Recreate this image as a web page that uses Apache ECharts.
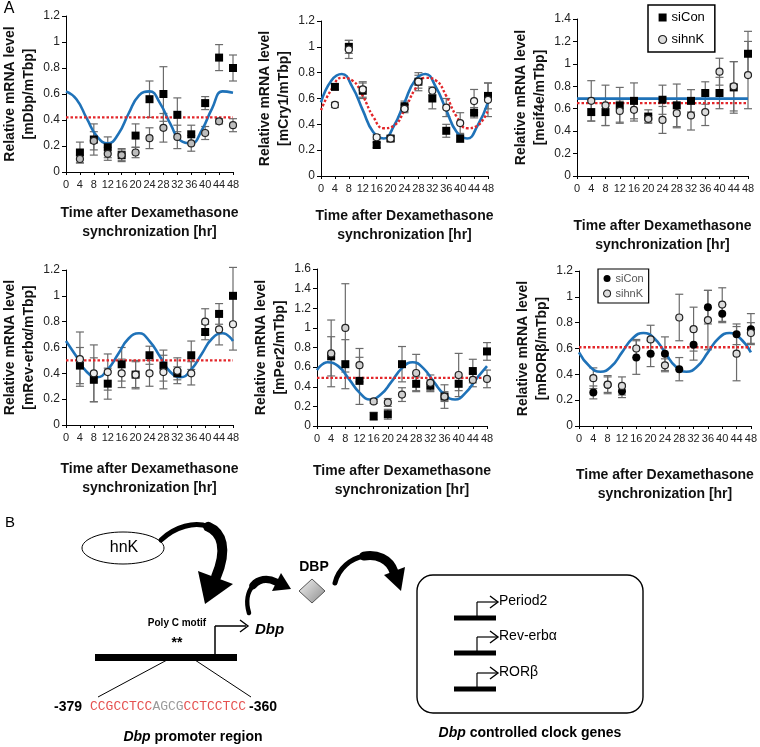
<!DOCTYPE html>
<html>
<head>
<meta charset="utf-8">
<title>hnK and Dbp controlled clock genes</title>
<script src="https://cdn.jsdelivr.net/npm/echarts@6/dist/echarts.min.js"></script>
<style>
  html, body { margin: 0; padding: 0; background: #fff; }
  #main { width: 760px; height: 747px; }
</style>
</head>
<body>
<div id="main"></div>
<script type="text/javascript">
// sampling times (hr after Dex)
var hours = [4, 8, 12, 16, 20, 24, 28, 32, 36, 40, 44, 48];
var fitHours = [0, 3, 6, 9, 12, 15, 18, 21, 24, 27, 30, 33, 36, 39, 42, 45, 48];
var legendNames = ['siCon', 'sihnK'];

// mDbp
var dbpCon = [0.15, 0.25, 0.19, 0.13, 0.28, 0.56, 0.60, 0.44, 0.29, 0.53, 0.88, 0.80];
var dbpConErr = [0.08, 0.12, 0.08, 0.05, 0.09, 0.14, 0.21, 0.13, 0.07, 0.05, 0.10, 0.10];
var dbpKd = [0.10, 0.24, 0.14, 0.13, 0.15, 0.26, 0.34, 0.27, 0.22, 0.30, 0.39, 0.36];
var dbpKdErr = [0.03, 0.07, 0.05, 0.04, 0.04, 0.08, 0.11, 0.09, 0.06, 0.05, 0.02, 0.05];
var dbpFit = [0.62, 0.56, 0.41, 0.27, 0.22, 0.29, 0.45, 0.59, 0.62, 0.53, 0.37, 0.24, 0.22, 0.32, 0.49, 0.62, 0.61];
var dbpKdMean = 0.42;

// mCry1
var cryCon = [0.69, 1.00, 0.66, 0.24, 0.29, 0.54, 0.73, 0.60, 0.35, 0.29, 0.49, 0.62];
var cryConErr = [0.02, 0.05, 0.06, 0.02, 0.02, 0.04, 0.07, 0.08, 0.05, 0.03, 0.04, 0.10];
var cryKd = [0.55, 0.98, 0.67, 0.30, 0.29, 0.52, 0.73, 0.66, 0.53, 0.41, 0.58, 0.59];
var cryKdErr = [0.02, 0.07, 0.06, 0.02, 0.02, 0.03, 0.05, 0.03, 0.07, 0.08, 0.09, 0.13];
var cryFitCon = [0.57, 0.74, 0.79, 0.69, 0.51, 0.34, 0.29, 0.39, 0.57, 0.74, 0.79, 0.69, 0.51, 0.34, 0.29, 0.39, 0.57];
var cryFitKd = [0.51, 0.67, 0.76, 0.74, 0.62, 0.46, 0.37, 0.39, 0.51, 0.67, 0.76, 0.74, 0.62, 0.46, 0.37, 0.39, 0.51];

// meif4e
var eifCon = [0.57, 0.57, 0.63, 0.67, 0.53, 0.68, 0.63, 0.67, 0.74, 0.74, 0.79, 1.09];
var eifConErr = [0.08, 0.12, 0.16, 0.16, 0.06, 0.13, 0.19, 0.10, 0.10, 0.14, 0.23, 0.20];
var eifKd = [0.67, 0.63, 0.58, 0.59, 0.51, 0.50, 0.56, 0.54, 0.57, 0.93, 0.80, 0.90];
var eifKdErr = [0.18, 0.18, 0.10, 0.10, 0.03, 0.12, 0.13, 0.13, 0.12, 0.12, 0.22, 0.30];
var eifConMean = 0.69;
var eifKdMean = 0.65;

// mRev-erbα
var revCon = [0.46, 0.35, 0.32, 0.47, 0.39, 0.54, 0.46, 0.40, 0.54, 0.72, 0.86, 1.00];
var revConErr = [0.14, 0.17, 0.12, 0.13, 0.11, 0.07, 0.12, 0.05, 0.11, 0.06, 0.08, 0.22];
var revKd = [0.51, 0.40, 0.41, 0.40, 0.39, 0.40, 0.41, 0.42, 0.40, 0.80, 0.74, 0.78];
var revKdErr = [0.21, 0.22, 0.14, 0.11, 0.10, 0.10, 0.13, 0.10, 0.09, 0.10, 0.12, 0.20];
var revFit = [0.65, 0.53, 0.41, 0.37, 0.43, 0.55, 0.67, 0.71, 0.65, 0.53, 0.41, 0.37, 0.43, 0.55, 0.67, 0.71, 0.65];
var revKdMean = 0.50;

// mPer2
var perCon = [0.71, 0.63, 0.46, 0.10, 0.12, 0.63, 0.43, 0.41, 0.30, 0.43, 0.56, 0.76];
var perConErr = [0.20, 0.25, 0.24, 0.04, 0.05, 0.18, 0.07, 0.06, 0.12, 0.07, 0.12, 0.09];
var perKd = [0.74, 1.00, 0.62, 0.25, 0.24, 0.32, 0.54, 0.44, 0.30, 0.52, 0.47, 0.48];
var perKdErr = [0.34, 0.45, 0.17, 0.02, 0.04, 0.07, 0.19, 0.08, 0.05, 0.22, 0.07, 0.09];
var perFit = [0.57, 0.65, 0.61, 0.48, 0.34, 0.27, 0.32, 0.45, 0.59, 0.65, 0.59, 0.45, 0.32, 0.27, 0.34, 0.48, 0.61];
var perKdMean = 0.49;

// mRORβ
var rorCon = [0.26, 0.32, 0.27, 0.53, 0.56, 0.56, 0.44, 0.63, 0.92, 0.87, 0.71, 0.75];
var rorConErr = [0.05, 0.07, 0.05, 0.13, 0.10, 0.13, 0.09, 0.12, 0.13, 0.07, 0.08, 0.12];
var rorKd = [0.37, 0.32, 0.31, 0.60, 0.67, 0.47, 0.84, 0.75, 0.82, 0.94, 0.56, 0.72];
var rorKdErr = [0.08, 0.06, 0.07, 0.07, 0.11, 0.05, 0.18, 0.17, 0.23, 0.13, 0.21, 0.08];
var rorFit = [0.57, 0.46, 0.42, 0.46, 0.57, 0.68, 0.72, 0.68, 0.57, 0.46, 0.42, 0.46, 0.57, 0.68, 0.72, 0.68, 0.57];
var rorKdMean = 0.61;

var FONT = '"Liberation Sans", Arial, sans-serif';
var BLUE = '#1f72b8';
var RED = '#e3262a';
var ERR = '#6b6b6b';

var panels = [
  {gene: 'mDbp', yMax: 1.2, con: dbpCon, conErr: dbpConErr, kd: dbpKd, kdErr: dbpKdErr,
   conFit: dbpFit, kdFit: null, conLevel: null, kdLevel: dbpKdMean, conSymbol: 'rect', kdFill: '#bdbdbd'},
  {gene: 'mCry1', yMax: 1.2, con: cryCon, conErr: cryConErr, kd: cryKd, kdErr: cryKdErr,
   conFit: cryFitCon, kdFit: cryFitKd, conLevel: null, kdLevel: null, conSymbol: 'rect', kdFill: '#f4f4f4'},
  {gene: 'meif4e', yMax: 1.4, con: eifCon, conErr: eifConErr, kd: eifKd, kdErr: eifKdErr,
   conFit: null, kdFit: null, conLevel: eifConMean, kdLevel: eifKdMean, conSymbol: 'rect', kdFill: '#dcdcdc'},
  {gene: 'mRev-erbα', yMax: 1.2, con: revCon, conErr: revConErr, kd: revKd, kdErr: revKdErr,
   conFit: revFit, kdFit: null, conLevel: null, kdLevel: revKdMean, conSymbol: 'rect', kdFill: '#ececec'},
  {gene: 'mPer2', yMax: 1.6, con: perCon, conErr: perConErr, kd: perKd, kdErr: perKdErr,
   conFit: perFit, kdFit: null, conLevel: null, kdLevel: perKdMean, conSymbol: 'rect', kdFill: '#d0d0d0'},
  {gene: 'mRORβ', yMax: 1.2, con: rorCon, conErr: rorConErr, kd: rorKd, kdErr: rorKdErr,
   conFit: rorFit, kdFit: null, conLevel: null, kdLevel: rorKdMean, conSymbol: 'circle', kdFill: '#dcdcdc'}
];

var layout = [
  {left: 65, top: 16, width: 168, height: 156, xGap: 32},
  {left: 321, top: 21, width: 167, height: 155, xGap: 31},
  {left: 577, top: 19, width: 171, height: 157, xGap: 41},
  {left: 65, top: 270, width: 168, height: 155, xGap: 35},
  {left: 317, top: 269, width: 170, height: 157, xGap: 36},
  {left: 579, top: 271, width: 173, height: 155, xGap: 40}
];

function pairs(xs, ys) {
  return xs.map(function (x, k) { return [x, ys[k]]; });
}

function errorBars(i, ys, es) {
  return {
    type: 'custom',
    xAxisIndex: i,
    yAxisIndex: i,
    z: 1,
    silent: true,
    encode: {x: 0, y: 1},
    data: hours.map(function (x, k) { return [x, ys[k], es[k]]; }),
    renderItem: function (params, api) {
      var x = api.value(0), y = api.value(1), e = api.value(2);
      var top = api.coord([x, y + e]);
      var bot = api.coord([x, y - e]);
      var w = 4;
      var st = {stroke: ERR, lineWidth: 1.2};
      return {
        type: 'group',
        children: [
          {type: 'line', shape: {x1: top[0], y1: top[1], x2: bot[0], y2: bot[1]}, style: st},
          {type: 'line', shape: {x1: top[0] - w, y1: top[1], x2: top[0] + w, y2: top[1]}, style: st},
          {type: 'line', shape: {x1: bot[0] - w, y1: bot[1], x2: bot[0] + w, y2: bot[1]}, style: st}
        ]
      };
    }
  };
}

function fitLine(i, ys, color, dotted) {
  return {
    type: 'line',
    xAxisIndex: i,
    yAxisIndex: i,
    z: 2,
    silent: true,
    smooth: true,
    showSymbol: false,
    data: pairs(fitHours, ys),
    lineStyle: {color: color, width: dotted ? 2.4 : 2.6, type: dotted ? [2.5, 2] : 'solid'}
  };
}

function levelLine(i, v, color, dotted) {
  return {
    type: 'line',
    xAxisIndex: i,
    yAxisIndex: i,
    z: 2,
    silent: true,
    showSymbol: false,
    data: [[0, v], [48, v]],
    lineStyle: {color: color, width: dotted ? 2.4 : 2.6, type: dotted ? [2.5, 2] : 'solid'}
  };
}

var grids = [], xAxes = [], yAxes = [], series = [];

panels.forEach(function (p, i) {
  var L = layout[i];
  grids.push({left: L.left, top: L.top, width: L.width, height: L.height});
  xAxes.push({
    type: 'value', gridIndex: i, min: 0, max: 48, interval: 4,
    axisLine: {lineStyle: {color: '#000', width: 1}},
    axisTick: {show: true, length: 3, lineStyle: {color: '#000'}},
    axisLabel: {fontSize: 11, color: '#222', margin: 7, fontFamily: FONT, hideOverlap: false},
    splitLine: {show: false},
    name: 'Time after Dexamethasone\nsynchronization [hr]',
    nameLocation: 'middle',
    nameGap: L.xGap,
    nameTextStyle: {fontSize: 14, fontWeight: 'bold', lineHeight: 19, color: '#111', fontFamily: FONT}
  });
  yAxes.push({
    type: 'value', gridIndex: i, min: 0, max: p.yMax, interval: 0.2,
    axisLine: {show: true, lineStyle: {color: '#000', width: 1}},
    axisTick: {show: true, length: 4, lineStyle: {color: '#000'}},
    axisLabel: {fontSize: 12, color: '#222', margin: 6, fontFamily: FONT},
    splitLine: {show: false},
    name: 'Relative mRNA level\n[' + p.gene + '/mTbp]',
    nameLocation: 'middle',
    nameRotate: 90,
    nameGap: 27,
    nameTextStyle: {fontSize: 14, fontWeight: 'bold', lineHeight: 19, color: '#111', fontFamily: FONT}
  });

  series.push(errorBars(i, p.con, p.conErr));
  series.push(errorBars(i, p.kd, p.kdErr));
  if (p.conFit) series.push(fitLine(i, p.conFit, BLUE, false));
  if (p.kdFit) series.push(fitLine(i, p.kdFit, RED, true));
  if (p.conLevel !== null) series.push(levelLine(i, p.conLevel, BLUE, false));
  if (p.kdLevel !== null) series.push(levelLine(i, p.kdLevel, RED, true));
  series.push({
    type: 'scatter', name: legendNames[0], xAxisIndex: i, yAxisIndex: i, z: 3,
    symbol: p.conSymbol, symbolSize: 8,
    itemStyle: {color: '#000', opacity: 1},
    data: pairs(hours, p.con)
  });
  series.push({
    type: 'scatter', name: legendNames[1], xAxisIndex: i, yAxisIndex: i, z: 4,
    symbol: 'circle', symbolSize: 7,
    itemStyle: {color: p.kdFill, borderColor: '#222', borderWidth: 1.2, opacity: 1},
    data: pairs(hours, p.kd)
  });
});

var legends = [
  {
    left: 648, top: 5, orient: 'vertical', selectedMode: false,
    padding: [6, 10], itemGap: 9, itemWidth: 8, itemHeight: 8,
    borderColor: '#000', borderWidth: 1.5, backgroundColor: '#fff',
    textStyle: {fontSize: 13, color: '#000', fontFamily: FONT},
    data: [
      {name: legendNames[0], icon: 'rect', itemStyle: {color: '#000'}},
      {name: legendNames[1], icon: 'circle', itemStyle: {color: '#dcdcdc', borderColor: '#222', borderWidth: 1.2}}
    ]
  },
  {
    left: 598, top: 269, orient: 'vertical', selectedMode: false,
    padding: [4, 5], itemGap: 4, itemWidth: 7, itemHeight: 7,
    borderColor: '#000', borderWidth: 1.2, backgroundColor: '#fff',
    textStyle: {fontSize: 11, color: '#555', fontFamily: FONT},
    data: [
      {name: legendNames[0], icon: 'circle', itemStyle: {color: '#000'}},
      {name: legendNames[1], icon: 'circle', itemStyle: {color: '#dcdcdc', borderColor: '#222', borderWidth: 1.1}}
    ]
  }
];

// ---- panel B schematic ----
function txt(x, y, text, size, weight, extra) {
  var st = {text: text, fontSize: size, fontWeight: weight || 'normal', fontFamily: FONT,
            fill: '#000', align: 'center', verticalAlign: 'middle'};
  for (var k in (extra || {})) st[k] = extra[k];
  return {type: 'text', x: x, y: y, z: 10, style: st};
}
function ln(x1, y1, x2, y2, w) {
  return {type: 'line', z: 10, shape: {x1: x1, y1: y1, x2: x2, y2: y2}, style: {stroke: '#000', lineWidth: w || 1}};
}
function chevron(x, y) {
  return {type: 'polyline', z: 10, shape: {points: [[x - 8, y - 6], [x, y], [x - 8, y + 6]]},
          style: {stroke: '#000', lineWidth: 1.4, fill: null}};
}
function curve(pts, w) {
  return {type: 'bezierCurve', z: 10,
          shape: {x1: pts[0], y1: pts[1], cpx1: pts[2], cpy1: pts[3], cpx2: pts[4], cpy2: pts[5], x2: pts[6], y2: pts[7]},
          style: {stroke: '#000', lineWidth: w, fill: null, lineCap: 'round'}};
}
function geneRow(yBar, label) {
  return [
    {type: 'rect', z: 10, shape: {x: 454, y: yBar - 2.5, width: 42, height: 5}, style: {fill: '#000'}},
    ln(477, yBar, 477, yBar - 16, 1.2),
    ln(477, yBar - 16, 497, yBar - 16, 1.2),
    chevron(498, yBar - 16),
    txt(499, yBar - 17, label, 14, 'normal', {align: 'left'})
  ];
}

var italicRich = {i: {fontStyle: 'italic', fontWeight: 'bold', fontSize: 14, fontFamily: FONT}};

var graphic = [
  txt(9, 9, 'A', 16),
  txt(10, 523, 'B', 15),
  // hnK
  {type: 'ellipse', z: 10, shape: {cx: 123, cy: 548, rx: 41, ry: 16}, style: {fill: '#fff', stroke: '#000', lineWidth: 1}},
  txt(124, 548, 'hnK', 16),
  // curved arrow hnK -> promoter (thin start, thick end)
  curve([161, 540, 175, 526.5, 195, 521.25, 208.25, 526.75], 5),
  curve([208.25, 526.75, 221.5, 532.25, 228, 548.5, 216, 577], 10),
  {type: 'polygon', z: 10, shape: {points: [[198, 571], [233, 584], [205, 604]]}, style: {fill: '#000'}},
  // Dbp -> DBP
  curve([249, 613, 245.5, 601.5, 247.75, 591.5, 253.1, 585.5], 4.5),
  curve([253.1, 585.5, 258.5, 579.5, 267, 577.5, 276, 582], 7.5),
  {type: 'polygon', z: 10, shape: {points: [[272, 591], [281, 573], [291, 589]]}, style: {fill: '#000'}},
  // DBP -> target genes
  curve([335, 583, 338.5, 568, 351, 558.5, 363.75, 556.1], 5),
  curve([363.75, 556.1, 376.5, 553.75, 389.5, 558.5, 394, 572], 9),
  {type: 'polygon', z: 10, shape: {points: [[384, 575], [405, 567], [401, 591]]}, style: {fill: '#000'}},
  // DBP protein
  txt(314, 567, 'DBP', 14, 'bold'),
  {type: 'polygon', z: 10, shape: {points: [[312, 579], [325, 591], [312, 603], [299, 591]]},
   style: {stroke: '#555', lineWidth: 1,
           fill: {type: 'linear', x: 0, y: 0, x2: 1, y2: 1,
                  colorStops: [{offset: 0, color: '#f4f4f4'}, {offset: 1, color: '#8a8a8a'}]}}},
  // promoter
  txt(177, 623, 'Poly C motif', 10, 'bold'),
  txt(177, 643, '**', 14, 'bold'),
  {type: 'rect', z: 10, shape: {x: 95, y: 654, width: 142, height: 7}, style: {fill: '#000'}},
  ln(215, 655, 215, 626, 1.5),
  ln(215, 626, 246, 626, 1.5),
  chevron(248, 626),
  txt(255, 630, 'Dbp', 15, 'bold', {align: 'left', fontStyle: 'italic'}),
  ln(167, 660, 98, 697, 1),
  ln(195, 660, 251, 697, 1),
  txt(68, 707, '-379', 14, 'bold'),
  txt(90, 707, '{r|CCGCCTCC}{g|AGCG}{r|CCTCCTCC}', 13, 'normal', {
    align: 'left',
    rich: {
      r: {fill: '#e5504f', fontFamily: '"Liberation Mono", monospace', fontSize: 13},
      g: {fill: '#9a9a9a', fontFamily: '"Liberation Mono", monospace', fontSize: 13}
    }
  }),
  txt(263, 707, '-360', 14, 'bold'),
  txt(193, 737, '{i|Dbp} promoter region', 14, 'bold', {rich: italicRich}),
  // target gene box
  {type: 'rect', z: 10, shape: {x: 417, y: 575, width: 226, height: 138, r: 16},
   style: {fill: '#fff', stroke: '#000', lineWidth: 1.4}},
  txt(530, 733, '{i|Dbp} controlled clock genes', 14, 'bold', {rich: italicRich})
];
graphic = graphic.concat(geneRow(618, 'Period2'), geneRow(653, 'Rev-erbα'), geneRow(689, 'RORβ'));

var myChart = echarts.init(document.getElementById('main'));

var option = {
  backgroundColor: '#fff',
  animation: false,
  textStyle: {fontFamily: FONT},
  grid: grids,
  xAxis: xAxes,
  yAxis: yAxes,
  legend: legends,
  series: series,
  graphic: graphic
};

myChart.setOption(option);
</script>
</body>
</html>
